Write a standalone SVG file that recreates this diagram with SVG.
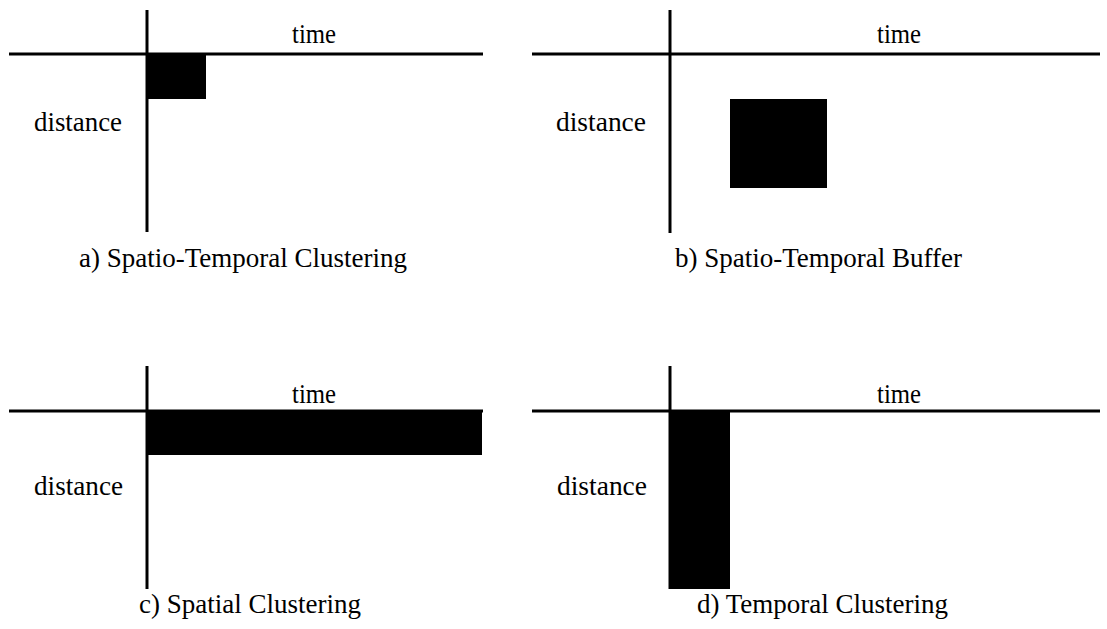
<svg xmlns="http://www.w3.org/2000/svg" width="1107" height="629" viewBox="0 0 1107 629">
<style>
.ax{stroke:#000;stroke-width:3;fill:none}
.blk{fill:#000}
.lbl{font-family:"Liberation Serif","Times New Roman",serif;font-size:27px;fill:#000}
.cap{font-family:"Liberation Serif","Times New Roman",serif;font-size:27px;fill:#000}
</style>
<rect width="1107" height="629" fill="#fff"/>
<g id="panel-a">
<line class="ax" x1="9" y1="54" x2="483" y2="54"/>
<line class="ax" x1="147" y1="10" x2="147" y2="232"/>
<rect class="blk" x="147" y="54" width="59" height="45"/>
<text class="lbl" x="292" y="43" textLength="44" lengthAdjust="spacingAndGlyphs">time</text>
<text class="lbl" x="34" y="131" textLength="88" lengthAdjust="spacingAndGlyphs">distance</text>
<text class="cap" x="79" y="267">a) Spatio-Temporal Clustering</text>
</g>
<g id="panel-b">
<line class="ax" x1="532" y1="54" x2="1100" y2="54"/>
<line class="ax" x1="670" y1="10" x2="670" y2="233"/>
<rect class="blk" x="730" y="99" width="97" height="89"/>
<text class="lbl" x="877" y="43" textLength="44" lengthAdjust="spacingAndGlyphs">time</text>
<text class="lbl" x="556" y="131" textLength="90" lengthAdjust="spacingAndGlyphs">distance</text>
<text class="cap" x="675" y="267">b) Spatio-Temporal Buffer</text>
</g>
<g id="panel-c">
<line class="ax" x1="9" y1="411" x2="483" y2="411"/>
<line class="ax" x1="147" y1="366" x2="147" y2="589"/>
<rect class="blk" x="147" y="411" width="335" height="44"/>
<text class="lbl" x="292" y="403" textLength="44" lengthAdjust="spacingAndGlyphs">time</text>
<text class="lbl" x="34" y="495" textLength="89" lengthAdjust="spacingAndGlyphs">distance</text>
<text class="cap" x="139" y="613">c) Spatial Clustering</text>
</g>
<g id="panel-d">
<line class="ax" x1="532" y1="411" x2="1100" y2="411"/>
<line class="ax" x1="670" y1="366" x2="670" y2="589"/>
<rect class="blk" x="670" y="411" width="60" height="178"/>
<text class="lbl" x="877" y="403" textLength="44" lengthAdjust="spacingAndGlyphs">time</text>
<text class="lbl" x="557" y="495" textLength="90" lengthAdjust="spacingAndGlyphs">distance</text>
<text class="cap" x="697" y="613">d) Temporal Clustering</text>
</g>
<g id="connectors"></g>
</svg>
